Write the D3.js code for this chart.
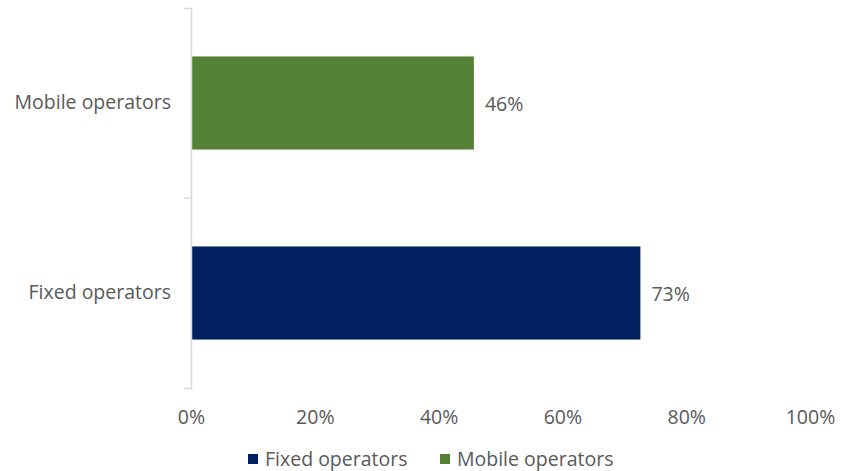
<!DOCTYPE html>
<html lang="en">
<head>
  <meta charset="UTF-8">
  <title>Operators</title>
  <script src="https://d3js.org/d3.v7.min.js"></script>
  <style>
    body { margin: 0; background: #fff; }
    text { font-family: "Open Sans", sans-serif; fill: #595959; }
  </style>
</head>
<body>
  <script>
    const width = 843, height = 471;
    const categories = ['Mobile operators', 'Fixed operators'];
    const values = [0.457, 0.726];
    const colors = ['#538135', '#002060'];
    const legendOrder = ['Fixed operators', 'Mobile operators'];
    const xTicks = [0, 0.2, 0.4, 0.6, 0.8, 1];
    const fs = '19.5px';

    const svg = d3.select('body')
      .append('svg')
      .attr('width', width)
      .attr('height', height);

    const x = d3.scaleLinear().domain([0, 1]).range([191, 810]);
    const y = d3.scaleBand().domain(categories).range([8, 388])
      .paddingInner(0.51).paddingOuter(0.255);
    const color = d3.scaleOrdinal().domain(categories).range(colors);

    // bars
    svg.selectAll('rect.bar')
      .data(categories)
      .join('rect')
      .attr('class', 'bar')
      .attr('x', x(0))
      .attr('y', d => y(d))
      .attr('width', (d, i) => x(values[i]) - x(0))
      .attr('height', y.bandwidth())
      .attr('fill', d => color(d));

    // value labels
    svg.selectAll('text.val')
      .data(categories)
      .join('text')
      .attr('class', 'val')
      .attr('x', (d, i) => x(values[i]) + 11)
      .attr('y', d => y(d) + y.bandwidth() / 2 + 1)
      .attr('dy', '0.35em')
      .style('font-size', fs)
      .text((d, i) => d3.format('.0%')(values[i]));

    // y axis
    const yAxis = d3.axisLeft(y).tickSize(0).tickSizeOuter(7).tickPadding(20);
    const gy = svg.append('g')
      .attr('transform', `translate(${x(0)},0)`)
      .call(yAxis);
    gy.select('.domain').attr('stroke', '#d9d9d9').attr('stroke-width', 1.5);
    gy.selectAll('text').style('font-size', fs).style('fill', '#595959');
    // boundary tick between the two bands
    gy.append('line')
      .attr('x1', -7).attr('x2', 0)
      .attr('y1', y.range()[0] + y.step()).attr('y2', y.range()[0] + y.step())
      .attr('stroke', '#d9d9d9').attr('stroke-width', 1.5);

    // x axis (labels only)
    const xAxis = d3.axisBottom(x).tickValues(xTicks)
      .tickFormat(d3.format('.0%')).tickSize(0).tickPadding(0);
    const gx = svg.append('g')
      .attr('transform', 'translate(0, 410)')
      .call(xAxis);
    gx.select('.domain').remove();
    gx.selectAll('text').style('font-size', fs).style('fill', '#595959');

    // legend
    const legend = svg.append('g').attr('transform', 'translate(248, 459)');
    const legendX = [0, 192];
    legendOrder.forEach((name, i) => {
      const g = legend.append('g').attr('transform', `translate(${legendX[i]},0)`);
      g.append('rect').attr('x', 0).attr('y', -5).attr('width', 10).attr('height', 10)
        .attr('fill', color(name));
      g.append('text').attr('x', 17).attr('y', 0).attr('dy', '0.35em')
        .style('font-size', fs).text(name);
    });
  </script>
</body>
</html>
